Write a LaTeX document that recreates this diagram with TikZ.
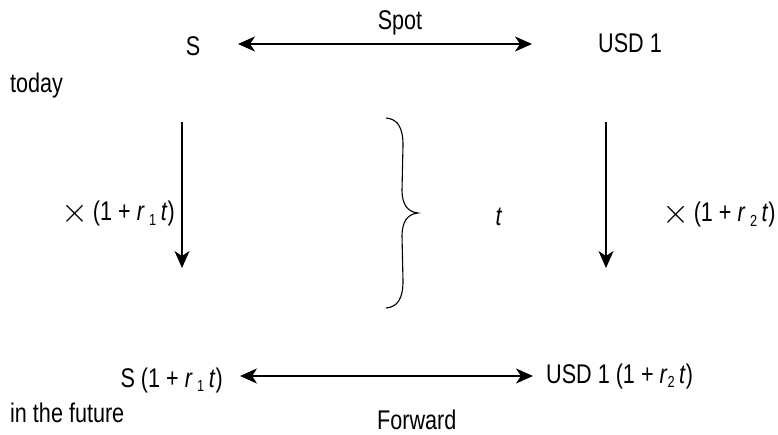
\documentclass[tikz,border=0pt]{standalone}
\usepackage{fontspec}
\setmainfont{Liberation Sans}[FakeStretch=0.8]
\usetikzlibrary{arrows.meta}
\newcommand{\lowsub}[1]{\raisebox{-0.35ex}{\fontsize{16}{16}\selectfont #1}}
\newcommand{\timessign}{\raisebox{-0.1ex}{\scalebox{1.4}{$\times$}}}
\begin{document}
\begin{tikzpicture}[x=1pt,y=-1pt,
  lbl/.style={inner sep=0pt,font=\fontsize{27}{32}\selectfont},
  arr/.style={line width=2pt,-{Stealth[length=17pt,width=15pt,inset=5pt]}},
  dbl/.style={line width=2pt,{Stealth[length=17pt,width=15pt,inset=5pt]}-{Stealth[length=17pt,width=15pt,inset=5pt]}}]
\useasboundingbox (0,0) rectangle (778,435);
% text nodes
\node[lbl,anchor=base west] (today) at (10,93) {today};
\node[lbl,anchor=base] (S) at (193,56) {S};
\node[lbl,anchor=base west] (U) at (598,53) {USD 1};
\node[lbl,anchor=base] (spot) at (400,30) {Spot};
\node[lbl,anchor=base east] (ml) at (175,221) {\timessign\,(1 + \textit{r}\,\lowsub{1}\,\textit{t})};
\node[lbl,anchor=base west] (mr) at (662,222) {\timessign\,(1 + \textit{r}\,\lowsub{2}\,\textit{t})};
\node[lbl,anchor=base] (tt) at (499,226) {\textit{t}};
\node[lbl,anchor=base east] (BL) at (223,387) {S (1 + \textit{r}\,\lowsub{1}\,\textit{t})};
\node[lbl,anchor=base west] (BR) at (546,383) {USD 1 (1 + \textit{r}\lowsub{2}\,\textit{t})};
\node[lbl,anchor=base west] (fut) at (10,422) {in the future};
\node[lbl,anchor=base west] (fwd) at (377,429) {Forward};
% arrow end points
\coordinate (tA) at (238,44);
\coordinate (tB) at (532,44);
\coordinate (bA) at (240,376);
\coordinate (bB) at (533,376);
\coordinate (lA) at (182,122);
\coordinate (lB) at (182,268);
\coordinate (rA) at (606,122);
\coordinate (rB) at (606,268);
\draw[dbl] (tA) -- (tB);
\draw[dbl] (bA) -- (bB);
\draw[arr] (lA) -- (lB);
\draw[arr] (rA) -- (rB);
% brace
\draw[line width=1.1pt] (386,118) .. controls (398,119) and (403,128) .. (403,145)
  -- (402,190) .. controls (402,205) and (408,212) .. (418,213)
  .. controls (408,214) and (402,221) .. (402,236)
  -- (403,281) .. controls (403,298) and (398,307) .. (386,308);
\end{tikzpicture}
\end{document}
